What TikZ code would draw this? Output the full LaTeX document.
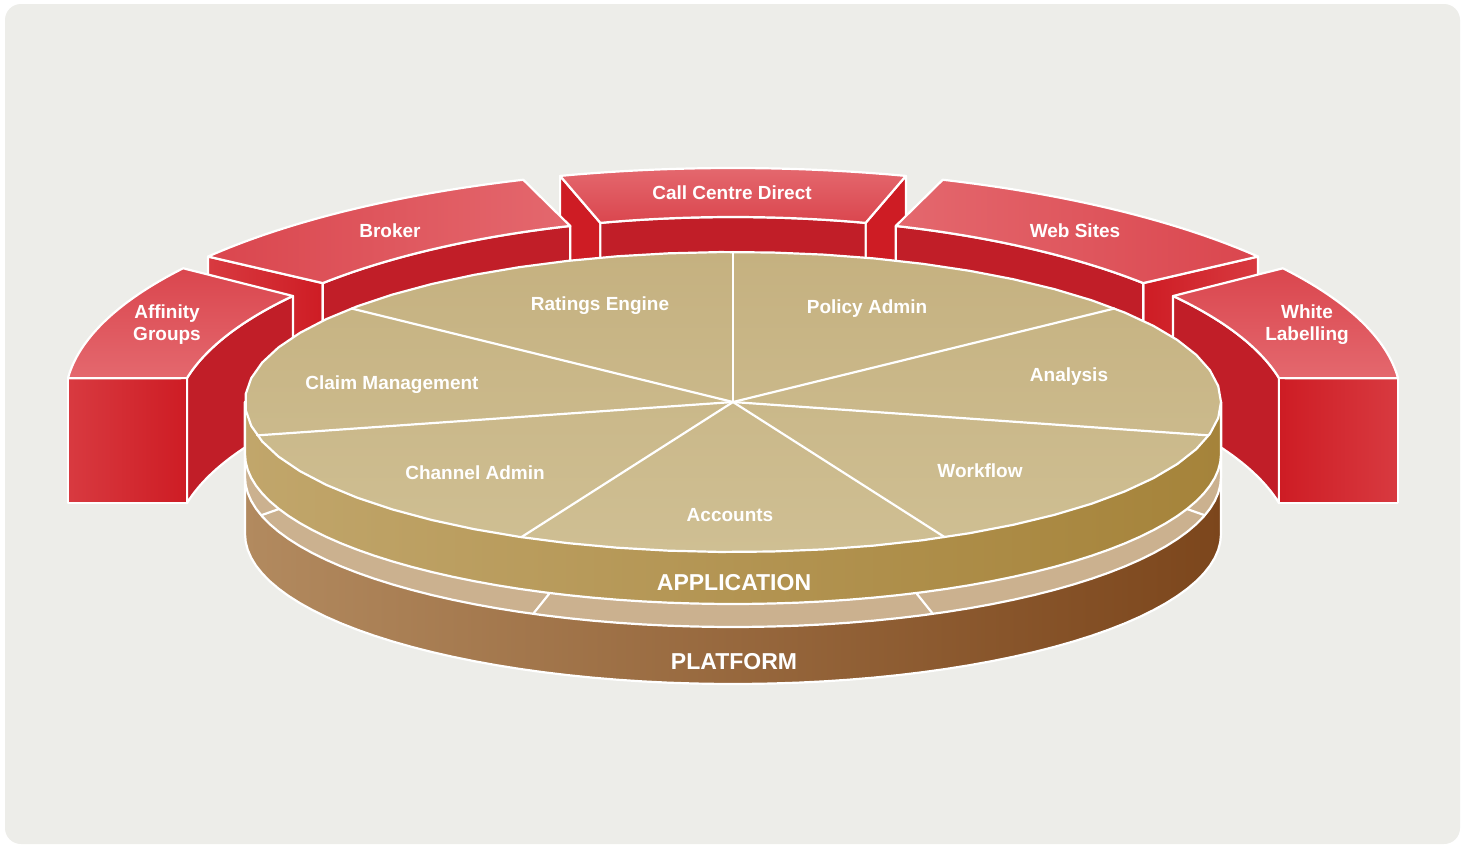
\documentclass[tikz,border=0pt]{standalone}
\usepackage{fontspec}
\setmainfont{Liberation Sans}
\definecolor{panel}{RGB}{237,237,233}
\definecolor{redtop}{RGB}{218,70,78}
\definecolor{redtoplt}{RGB}{228,104,110}
\definecolor{redwall}{RGB}{193,30,40}
\definecolor{redend}{RGB}{206,28,36}
\definecolor{redendlt}{RGB}{216,58,64}
\definecolor{tantop}{RGB}{197,177,128}
\definecolor{tantoplt}{RGB}{207,191,147}
\definecolor{appl}{RGB}{193,166,107}
\definecolor{appm}{RGB}{189,160,96}
\definecolor{appr}{RGB}{165,131,58}
\definecolor{strip}{RGB}{203,177,143}
\definecolor{platl}{RGB}{178,138,95}
\definecolor{platm}{RGB}{152,102,52}
\definecolor{platr}{RGB}{124,70,28}
\begin{document}
\begin{tikzpicture}[x=1pt, y=-1pt, samples=60,
	declare function={ox(\t)=733+668*cos(\t); oy(\t)=400-232*sin(\t);
		ix(\t)=733+560*cos(\t); iy(\t)=424-207*sin(\t);
		tx(\t)=733+488*cos(\t); ty(\t)=402-150*sin(\t);}]
		\tikzset{face/.style={draw=white, line width=2.2pt, line join=round},
			slice/.style={draw=white, line width=2.2pt, line cap=round},
			lbl/.style={text=white, font=\fontsize{19}{22}\selectfont\bfseries, align=center, yshift=-2pt},
			layer/.style={text=white, font=\fontsize{23}{26}\selectfont\bfseries, yshift=-1pt}};
		\useasboundingbox (0,0) rectangle (1467,844);
		\fill[white] (0,0) rectangle (1467,844);
		\fill[panel, rounded corners=16pt] (5,4) rectangle (1460,844);

		% call centre direct
		\path[face, fill=redend] ({ox(105)},{oy(105)}) -- ({ix(103.7)},{iy(103.7)}) -- ({ix(103.7)},{iy(103.7)+125}) -- ({ox(105)},{oy(105)+125}) -- cycle;
		\path[face, fill=redend] ({ox(75)},{oy(75)}) -- ({ix(76.3)},{iy(76.3)}) -- ({ix(76.3)},{iy(76.3)+125}) -- ({ox(75)},{oy(75)+125}) -- cycle;
		\path[face, fill=redwall] plot[domain=103.7:76.3] ({ix(\x)},{iy(\x)}) -- plot[domain=76.3:103.7] ({ix(\x)},{iy(\x)+125}) -- cycle;
		\path[face, top color=redtoplt, bottom color=redtop] plot[domain=105:75] ({ox(\x)},{oy(\x)}) -- plot[domain=76.3:103.7] ({ix(\x)},{iy(\x)}) -- cycle;

		% broker
		\path[face, left color=redendlt, right color=redend] ({ox(141.8)},{oy(141.8)}) -- ({ix(137.1)},{iy(137.1)}) -- ({ix(137.1)},{iy(137.1)+125}) -- ({ox(141.8)},{oy(141.8)+125}) -- cycle;
		\path[face, fill=redwall] plot[domain=137.1:106.9] ({ix(\x)},{iy(\x)}) -- plot[domain=106.9:137.1] ({ix(\x)},{iy(\x)+125}) -- cycle;
		\path[face, left color=redtop, right color=redtoplt] plot[domain=141.8:108.3] ({ox(\x)},{oy(\x)}) -- plot[domain=106.9:137.1] ({ix(\x)},{iy(\x)}) -- cycle;

		% web sites
		\path[face, left color=redend, right color=redendlt] ({ox(38.2)},{oy(38.2)}) -- ({ix(42.9)},{iy(42.9)}) -- ({ix(42.9)},{iy(42.9)+125}) -- ({ox(38.2)},{oy(38.2)+125}) -- cycle;
		\path[face, fill=redwall] plot[domain=42.9:73.1] ({ix(\x)},{iy(\x)}) -- plot[domain=73.1:42.9] ({ix(\x)},{iy(\x)+125}) -- cycle;
		\path[face, left color=redtoplt, right color=redtop] plot[domain=38.2:71.7] ({ox(\x)},{oy(\x)}) -- plot[domain=73.1:42.9] ({ix(\x)},{iy(\x)}) -- cycle;

		% affinity groups
		\path[face, fill=redwall] plot[domain=167.2:141.8] ({ix(\x)},{iy(\x)}) -- plot[domain=141.8:167.2] ({ix(\x)},{iy(\x)+125}) -- cycle;
		\path[face, left color=redendlt, right color=redend] ({ox(174.6)},{oy(174.6)}) rectangle ({ix(167.2)},{iy(167.2)+125});
		\path[face, top color=redtop, bottom color=redtoplt] plot[domain=174.6:145.4] ({ox(\x)},{oy(\x)}) -- plot[domain=141.8:167.2] ({ix(\x)},{iy(\x)}) -- cycle;

		% white labelling
		\path[face, fill=redwall] plot[domain=12.8:38.2] ({ix(\x)},{iy(\x)}) -- plot[domain=38.2:12.8] ({ix(\x)},{iy(\x)+125}) -- cycle;
		\path[face, left color=redend, right color=redendlt] ({ix(12.8)},{iy(12.8)}) rectangle ({ox(5.4)},{oy(5.4)+125});
		\path[face, top color=redtop, bottom color=redtoplt] plot[domain=5.4:34.6] ({ox(\x)},{oy(\x)}) -- plot[domain=38.2:12.8] ({ix(\x)},{iy(\x)}) -- cycle;

		% disc layers
		\coordinate (hub) at (733,402);
		\path[face, left color=platl, middle color=platm, right color=platr] (245,402) -- plot[domain=180:360] ({tx(\x)},{ty(\x)+132}) -- (1221,402) -- cycle;
		\path[face, fill=strip] (245,402) -- plot[domain=180:360] ({tx(\x)},{ty(\x)+75}) -- (1221,402) -- cycle;
		\path[face, left color=appl, middle color=appm, right color=appr] (245,402) -- plot[domain=180:360] ({tx(\x)},{ty(\x)+52}) -- (1221,402) -- cycle;
		\path[face, top color=tantop, bottom color=tantoplt] plot[domain=0:360] ({tx(\x)},{ty(\x)}) -- cycle;

		\draw[slice] (hub) -- ({tx(90)},{ty(90)});
		\draw[slice] (hub) -- ({tx(141.43)},{ty(141.43)});
		\draw[slice] (hub) -- ({tx(192.86)},{ty(192.86)});
		\draw[slice] (hub) -- ({tx(244.29)},{ty(244.29)});
		\draw[slice] (hub) -- ({tx(295.71)},{ty(295.71)});
		\draw[slice] (hub) -- ({tx(347.14)},{ty(347.14)});
		\draw[slice] (hub) -- ({tx(38.57)},{ty(38.57)});

		\draw[slice] (279,509) -- (262,515);
		\draw[slice] (549,594) -- (533,614);
		\draw[slice] (917,594) -- (933,614);
		\draw[slice] (1187,509) -- (1204,515);

		% labels
		\node[lbl] (ccd) at (732,191) {Call Centre Direct};
		\node[lbl] (broker) at (390,229) {Broker};
		\node[lbl] (websites) at (1075,229) {Web Sites};
		\node[lbl] (affinity) at (167,323) {Affinity\\Groups};
		\node[lbl] (whitelab) at (1307,323) {White\\Labelling};
		\node[lbl] (ratings) at (600,304) {Ratings Engine};
		\node[lbl] (policy) at (867,307) {Policy Admin};
		\node[lbl] (claim) at (392,383) {Claim Management};
		\node[lbl] (analysis) at (1069,375) {Analysis};
		\node[lbl] (channel) at (475,471) {Channel Admin};
		\node[lbl] (workflow) at (980,469) {Workflow};
		\node[lbl] (accounts) at (730,513) {Accounts};
		\node[layer] (app) at (734,582) {APPLICATION};
		\node[layer] (plat) at (734,661) {PLATFORM};
	\end{tikzpicture}
\end{document}
